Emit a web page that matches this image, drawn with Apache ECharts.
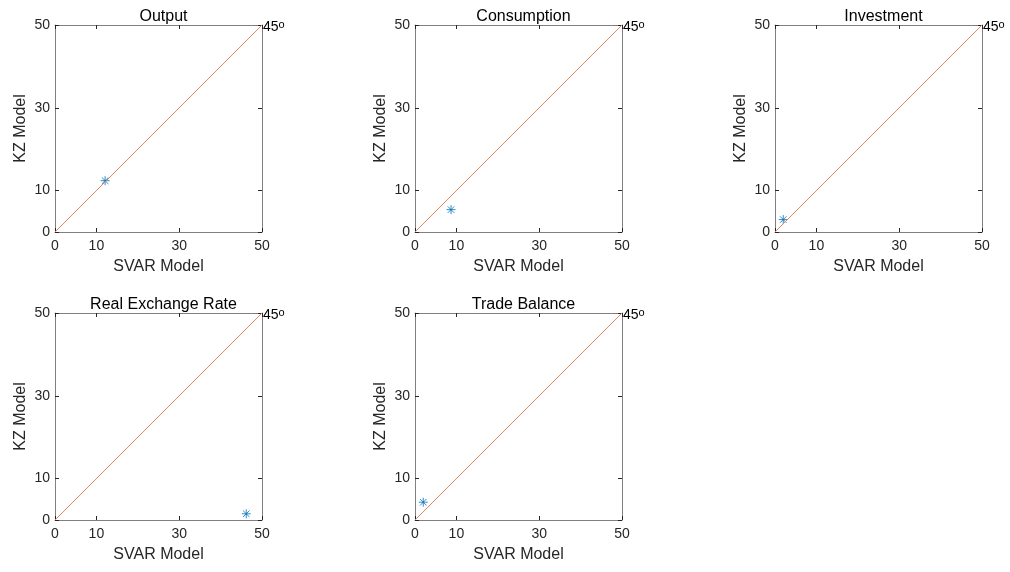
<!DOCTYPE html>
<html>
<head>
<meta charset="utf-8">
<script src="https://cdn.jsdelivr.net/npm/echarts@6/dist/echarts.min.js"></script>
<style>html,body{margin:0;padding:0;background:#fff}#c{width:1010px;height:572px}</style>
</head>
<body>
<div id="c"></div>
<script>
const titles = ['Output', 'Consumption', 'Investment', 'Real Exchange Rate', 'Trade Balance'];
const svarValues = [12.1, 8.7, 2.0, 46.2, 2.0];
const kzValues = [12.4, 5.4, 3.0, 1.5, 4.3];
const tickValues = [0, 10, 30, 50];
const diagonal = [[0, 0], [50, 50]];
const xName = 'SVAR Model';
const yName = 'KZ Model';
const angleLabel = '45';

const lefts = [55, 415, 775, 55, 415];
const tops = [25, 25, 25, 313, 313];
const size = 207;
const font = 'Liberation Sans, Arial, sans-serif';
const axisColor = '#808080';
const textColor = '#262626';

const asterisk = 'path://M0,-5L0,5M-5,0L5,0M-3.6,-3.6L3.6,3.6M-3.6,3.6L3.6,-3.6';

const grid = [], xAxis = [], yAxis = [], series = [], title = [];
titles.forEach((t, i) => {
  grid.push({left: lefts[i], top: tops[i], width: size, height: size, containLabel: false});
  title.push({
    text: t, left: lefts[i] + size / 2, top: tops[i] - 21, textAlign: 'center',
    textStyle: {fontFamily: font, fontSize: 16, fontWeight: 'normal', color: '#000'}
  });
  const common = {
    type: 'value', min: 0, max: 50, gridIndex: i,
    splitLine: {show: false},
    axisLine: {show: true, onZero: false, lineStyle: {color: axisColor, width: 1}},
    axisTick: {show: true, inside: true, length: 4, customValues: tickValues, lineStyle: {color: '#262626'}}
  };
  xAxis.push(Object.assign({}, common, {
    position: 'bottom',
    name: xName, nameLocation: 'middle', nameGap: 27,
    nameTextStyle: {fontFamily: font, fontSize: 16, color: textColor},
    axisLabel: {show: true, customValues: tickValues, margin: 7, fontFamily: font, fontSize: 14, color: textColor}
  }));
  xAxis.push(Object.assign({}, common, {position: 'top', axisLabel: {show: false}}));
  yAxis.push(Object.assign({}, common, {
    position: 'left',
    name: yName, nameLocation: 'middle', nameGap: 26,
    nameTextStyle: {fontFamily: font, fontSize: 16, color: textColor},
    axisLabel: {show: true, customValues: tickValues, margin: 5, fontFamily: font, fontSize: 14, color: textColor}
  }));
  yAxis.push(Object.assign({}, common, {position: 'right', axisLabel: {show: false}}));

  series.push({
    type: 'line', xAxisIndex: 2 * i, yAxisIndex: 2 * i,
    data: diagonal, showSymbol: false, symbol: 'none', silent: true,
    lineStyle: {color: '#E8845A', width: 1},
    endLabel: {
      show: true, distance: 1, padding: [5, 0, 0, 0],
      formatter: () => '{n|' + angleLabel + '}{s|o}',
      rich: {
        n: {fontFamily: font, fontSize: 14, color: '#000', lineHeight: 16},
        s: {fontFamily: font, fontSize: 11, color: '#000', verticalAlign: 'top', lineHeight: 16, padding: [0, 0, 8, 0]}
      }
    }
  });
  series.push({
    type: 'scatter', xAxisIndex: 2 * i, yAxisIndex: 2 * i,
    data: [[svarValues[i], kzValues[i]]],
    symbol: asterisk, symbolSize: 9,
    itemStyle: {color: 'none', borderColor: '#0072BD', borderWidth: 1}
  });
});

const chart = echarts.init(document.getElementById('c'), null, {renderer: 'canvas'});
chart.setOption({animation: false, backgroundColor: '#fff', title, grid, xAxis, yAxis, series});
</script>
</body>
</html>
